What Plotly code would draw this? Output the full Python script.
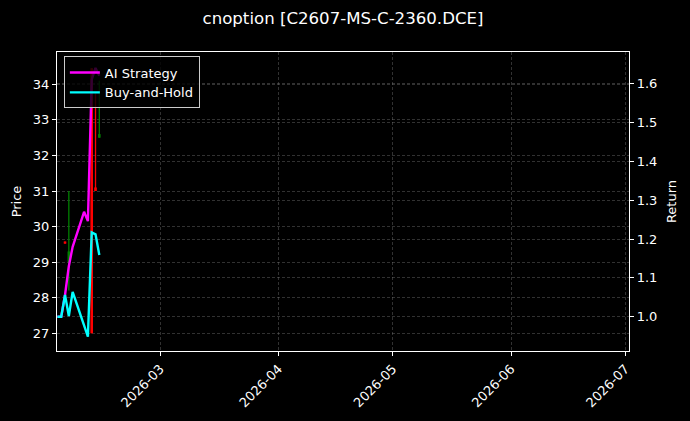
import plotly.graph_objects as go

# ---- data ----
line_dates = ['2026-02-02', '2026-02-03', '2026-02-04', '2026-02-05', '2026-02-06',
              '2026-02-09', '2026-02-10', '2026-02-11', '2026-02-12', '2026-02-13']
ai_strategy = [1.0, 1.0, 1.056, 1.13, 1.18, 1.27, 1.246, 1.61, 1.64, 1.62]
buy_and_hold = [1.0, 1.0, 1.056, 1.002, 1.064, 0.974, 0.949, 1.217, 1.212, 1.159]

candle_dates = ['2026-02-04', '2026-02-05', '2026-02-11', '2026-02-12', '2026-02-13']
candle_open = [29.58, 29.0, 34.45, 31.1, 32.5]
candle_high = [29.58, 31.0, 34.45, 33.75, 34.1]
candle_low = [29.52, 28.2, 27.0, 31.0, 32.5]
candle_close = [29.52, 29.3, 27.0, 31.0, 32.6]

title_text = 'cnoption [C2607-MS-C-2360.DCE]'
x_range = ['2026-02-01 21:30', '2026-07-01 22:30']
price_range = [26.50, 34.91]
return_range = [0.912, 1.681]

FONT = 'DejaVu Sans'
GRID = 'rgba(128,128,128,0.38)'


def segments(idx, lo, hi):
    xs, ys = [], []
    for i in idx:
        xs += [candle_dates[i], candle_dates[i], None]
        ys += [lo[i], hi[i], None]
    return xs, ys


up = [i for i in range(len(candle_dates)) if candle_close[i] >= candle_open[i]]
down = [i for i in range(len(candle_dates)) if candle_close[i] < candle_open[i]]

fig = go.Figure()
for idx, col in ((down, '#ff0000'), (up, '#008000')):
    xs, ys = segments(idx, candle_low, candle_high)
    fig.add_trace(go.Scatter(x=xs, y=ys, mode='lines', line=dict(color=col, width=1.3),
                             showlegend=False, hoverinfo='skip', yaxis='y'))
    xs, ys = segments(idx, candle_open, candle_close)
    fig.add_trace(go.Scatter(x=xs, y=ys, mode='lines', line=dict(color=col, width=2.6),
                             showlegend=False, hoverinfo='skip', yaxis='y'))

fig.add_trace(go.Scatter(x=line_dates, y=ai_strategy, mode='lines', name='AI Strategy',
                         line=dict(color='#ff00ff', width=2.4), yaxis='y2'))
fig.add_trace(go.Scatter(x=line_dates, y=buy_and_hold, mode='lines', name='Buy-and-Hold',
                         line=dict(color='#00ffff', width=2.4), yaxis='y2'))

axis_common = dict(showline=True, linecolor='white', linewidth=1.2, ticks='outside',
                   ticklen=4, tickcolor='white', tickfont=dict(color='white', size=13, family=FONT),
                   showgrid=True, gridcolor=GRID, griddash='3px,2px', gridwidth=0.8, zeroline=False,
                   automargin=False)

fig.update_layout(
    width=690, height=421,
    margin=dict(l=57, r=61, t=52, b=70),
    paper_bgcolor='black', plot_bgcolor='black',
    font=dict(family=FONT, color='white', size=13),
    title=dict(text=title_text, x=0.5, xref='paper', xanchor='center', y=0.957, yanchor='middle',
               font=dict(size=16.6, color='white', family=FONT)),
    xaxis=dict(range=x_range, type='date', dtick='M1', tick0='2026-03-01', tickformat='%Y-%m',
               tickangle=-45, mirror=True, **axis_common),
    yaxis=dict(range=price_range, dtick=1, tick0=27, mirror=True,
               title=dict(text='Price', font=dict(size=13, color='white', family=FONT), standoff=8),
               **axis_common),
    yaxis2=dict(range=return_range, dtick=0.1, tick0=1.0, tickformat='.1f', overlaying='y', side='right',
                title=dict(text='Return', font=dict(size=13, color='white', family=FONT), standoff=10),
                **axis_common),
    legend=dict(x=0.012, y=0.985, xanchor='left', yanchor='top', bgcolor='rgba(0,0,0,0.8)',
                bordercolor='#cccccc', borderwidth=1, font=dict(size=13, color='white', family=FONT),
                tracegroupgap=0, itemwidth=30),
    showlegend=True,
)

fig.write_html('out.html', config={'displayModeBar': False},
               post_script="document.body.style.margin='0';document.body.style.background='black';")
